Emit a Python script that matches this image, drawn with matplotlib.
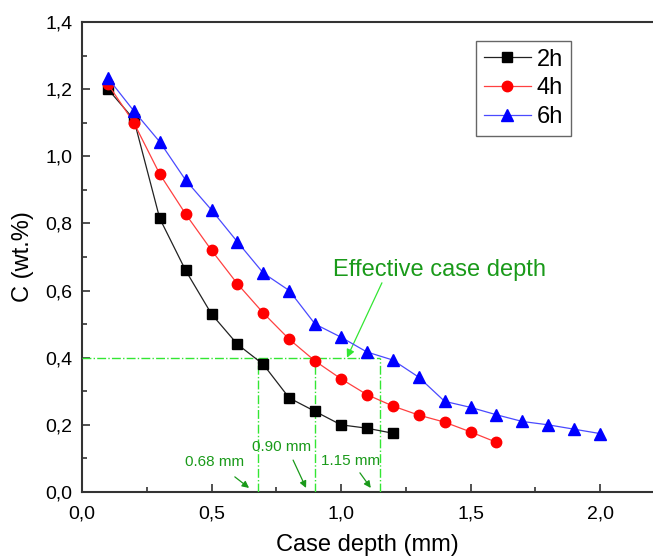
import matplotlib
matplotlib.use("Agg")
import matplotlib.pyplot as plt
from matplotlib.ticker import MultipleLocator, FuncFormatter

depth_2h = [0.1, 0.2, 0.3, 0.4, 0.5, 0.6, 0.7, 0.8, 0.9, 1.0, 1.1, 1.2]
c_2h = [1.20, 1.11, 0.815, 0.66, 0.53, 0.44, 0.38, 0.28, 0.24, 0.20, 0.19, 0.175]

depth_4h = [0.1, 0.2, 0.3, 0.4, 0.5, 0.6, 0.7, 0.8, 0.9, 1.0, 1.1, 1.2, 1.3, 1.4, 1.5, 1.6]
c_4h = [1.215, 1.10, 0.947, 0.828, 0.72, 0.62, 0.533, 0.455, 0.39, 0.337, 0.29,
        0.256, 0.229, 0.208, 0.179, 0.148]

depth_6h = [0.1, 0.2, 0.3, 0.4, 0.5, 0.6, 0.7, 0.8, 0.9, 1.0, 1.1, 1.2, 1.3, 1.4,
            1.5, 1.6, 1.7, 1.8, 1.9, 2.0]
c_6h = [1.233, 1.135, 1.043, 0.929, 0.84, 0.745, 0.652, 0.60, 0.50, 0.461, 0.417,
        0.393, 0.342, 0.27, 0.252, 0.23, 0.21, 0.20, 0.187, 0.174]

threshold = 0.4
case_depths = [0.68, 0.90, 1.15]
case_labels = ["0.68 mm", "0.90 mm", "1.15 mm"]

plt.rcParams.update({"font.family": "Liberation Sans"})
fig = plt.figure(figsize=(6.53, 5.59), dpi=100)
ax = fig.add_axes([0.1256, 0.1199, 0.8744, 0.8408])

ax.plot(depth_2h, c_2h, "-s", color="#222222", mfc="black", mec="black",
        lw=0.9, ms=6.5, label="2h", zorder=4)
ax.plot(depth_4h, c_4h, "-o", color="#ff4040", mfc="red", mec="red",
        lw=0.9, ms=7.5, label="4h", zorder=4)
ax.plot(depth_6h, c_6h, "-^", color="#4a4aff", mfc="blue", mec="blue",
        lw=0.9, ms=8.5, label="6h", zorder=4)

light = "#33e633"
dark = "#1a9a1a"
ax.plot([0, max(case_depths)], [threshold, threshold], ls="-.", color=light, lw=1.0, zorder=3)
for d in case_depths:
    ax.plot([d, d], [0, threshold], ls="-.", color=light, lw=1.0, zorder=3)

label_pos = [(0.513, 0.088), (0.772, 0.133), (1.035, 0.091)]
arrow_start = [(0.59, 0.045), (0.815, 0.095), (1.073, 0.057)]
for d, lab, (tx, ty), (sx, sy) in zip(case_depths, case_labels, label_pos, arrow_start):
    ax.text(tx, ty, lab, color=dark, fontsize=11, ha="center", va="center")
    ax.annotate("", xy=(d - 0.035, 0.012), xytext=(sx, sy),
                arrowprops=dict(arrowstyle="-|>", color=dark, lw=0.9,
                                mutation_scale=10, shrinkA=0, shrinkB=0))

ax.text(0.97, 0.66, "Effective case depth", color=dark, fontsize=17, ha="left", va="center")
ax.annotate("", xy=(1.023, threshold), xytext=(1.158, 0.623),
            arrowprops=dict(arrowstyle="-|>", color=light, lw=0.9,
                            mutation_scale=12, shrinkA=0, shrinkB=0))

ax.set_xlim(0, 2.2046)
ax.set_ylim(0, 1.4)
ax.xaxis.set_major_locator(MultipleLocator(0.5))
ax.xaxis.set_minor_locator(MultipleLocator(0.25))
ax.yaxis.set_major_locator(MultipleLocator(0.2))
ax.yaxis.set_minor_locator(MultipleLocator(0.1))
comma = FuncFormatter(lambda v, p: f"{v:.1f}".replace(".", ","))
ax.xaxis.set_major_formatter(comma)
ax.yaxis.set_major_formatter(comma)
ax.tick_params(which="both", direction="in", labelsize=14, color="#333333", width=1.2)
ax.tick_params(which="major", length=6)
ax.tick_params(which="minor", length=3.5)
ax.tick_params(axis="x", which="major", pad=10)
ax.tick_params(axis="y", which="major", pad=7)
ax.spines["right"].set_visible(False)
for s in ["left", "bottom", "top"]:
    ax.spines[s].set_linewidth(1.5)
    ax.spines[s].set_color("#333333")

ax.set_xlabel("Case depth (mm)", fontsize=17, labelpad=8)
ax.set_ylabel("C (wt.%)", fontsize=17, labelpad=8)

leg = ax.legend(loc="upper left", bbox_to_anchor=(0.69, 0.96), fontsize=17,
                fancybox=False, edgecolor="#666666", framealpha=1,
                handlelength=2.0, handletextpad=0.25, borderpad=0.33,
                labelspacing=0.28, borderaxespad=0)
leg.get_frame().set_linewidth(1.0)

fig.savefig("out.png", dpi=100)
